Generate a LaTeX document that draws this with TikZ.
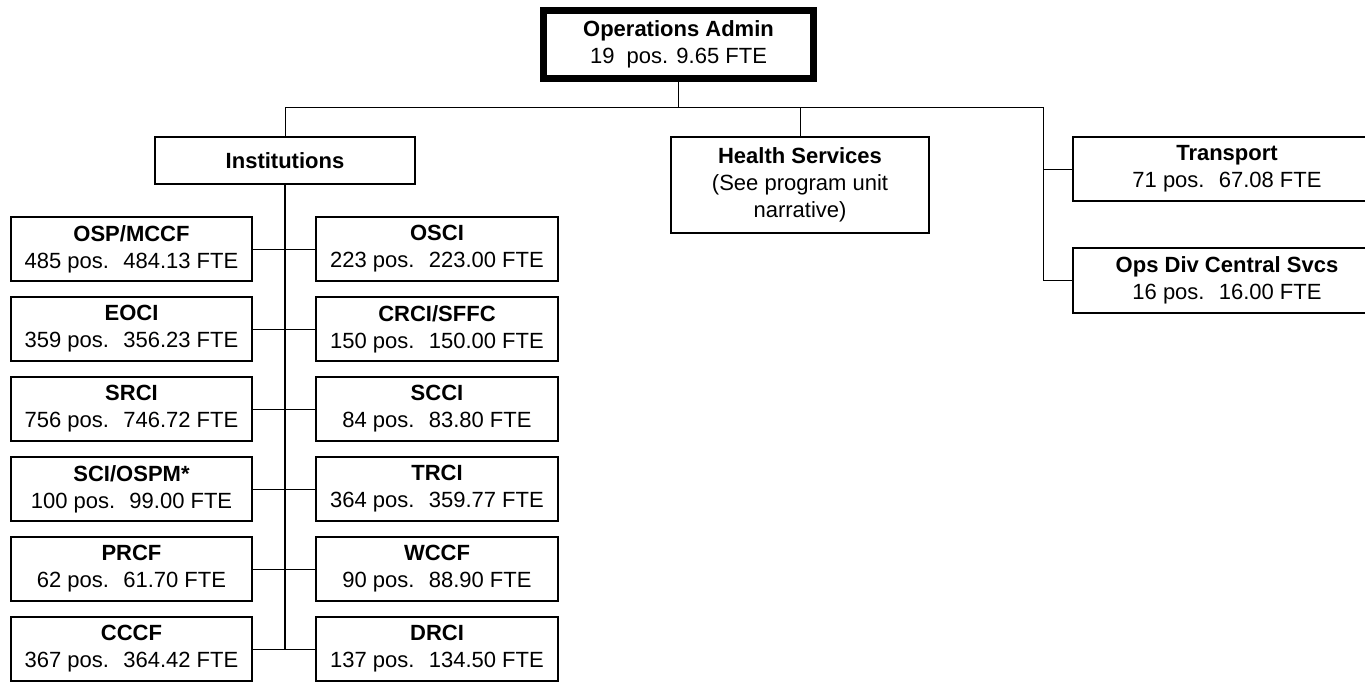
\documentclass[tikz,border=0pt]{standalone}
\usepackage{fontspec}
\setmainfont{Liberation Sans}
\begin{document}
\begin{tikzpicture}[x=1pt, y=-1pt,
    unit/.style={draw, line width=1.3pt, align=center, inner sep=0pt,
      minimum height=64pt, font=\fontsize{22}{27}\selectfont},
    link/.style={line width=1pt}]
  \useasboundingbox (0,0) rectangle (1365,681);
  \clip (0,0) rectangle (1365,681);

  \node[unit, line width=7pt, minimum width=270pt, minimum height=68pt] (admin) at (678.5,44.5)
    {\textbf{Operations Admin}\\19~ pos. 9.65 FTE};
  \node[unit, minimum width=260pt, minimum height=47pt] (inst) at (285,160.5) {\textbf{Institutions}};
  \node[unit, minimum width=258pt, minimum height=96pt] (health) at (800,185)
    {\textbf{Health Services}\\(See program unit\\narrative)};
  \node[unit, minimum width=308pt] (trans) at (1227,169) {\textbf{Transport}\\71 pos.~ 67.08 FTE};
  \node[unit, minimum width=308pt, minimum height=65pt] (ops) at (1227,280.5)
    {\textbf{Ops Div Central Svcs}\\16 pos.~ 16.00 FTE};

  % institutions, two columns
  \foreach \ltext/\rtext [count=\i] in {
      {\textbf{OSP/MCCF}\\485 pos.~ 484.13 FTE}/{\textbf{OSCI}\\223 pos.~ 223.00 FTE},
      {\textbf{EOCI}\\359 pos.~ 356.23 FTE}/{\textbf{CRCI/SFFC}\\150 pos.~ 150.00 FTE},
      {\textbf{SRCI}\\756 pos.~ 746.72 FTE}/{\textbf{SCCI}\\84 pos.~ 83.80 FTE},
      {\textbf{SCI/OSPM*}\\100 pos.~ 99.00 FTE}/{\textbf{TRCI}\\364 pos.~ 359.77 FTE},
      {\textbf{PRCF}\\62 pos.~ 61.70 FTE}/{\textbf{WCCF}\\90 pos.~ 88.90 FTE},
      {\textbf{CCCF}\\367 pos.~ 364.42 FTE}/{\textbf{DRCI}\\137 pos.~ 134.50 FTE}} {
    \node[unit, minimum width=241pt] (l\i) at (131.5,169+80*\i) {\ltext};
    \node[unit, minimum width=242pt] (r\i) at (437,169+80*\i) {\rtext};
    \draw[link] (l\i) -- (r\i);
  }

  \coordinate (bar) at (1043,107);
  \draw[link] (admin.south) -- (admin.south |- bar);
  \draw[link] (inst.north) |- (bar) |- (ops.west);
  \draw[link] (health.north) -- (health.north |- bar);
  \draw[link] (trans.west) -- (trans.west -| bar);
  \draw[line width=2pt] (inst.south) -- (inst.south |- l6.east);
\end{tikzpicture}
\end{document}
